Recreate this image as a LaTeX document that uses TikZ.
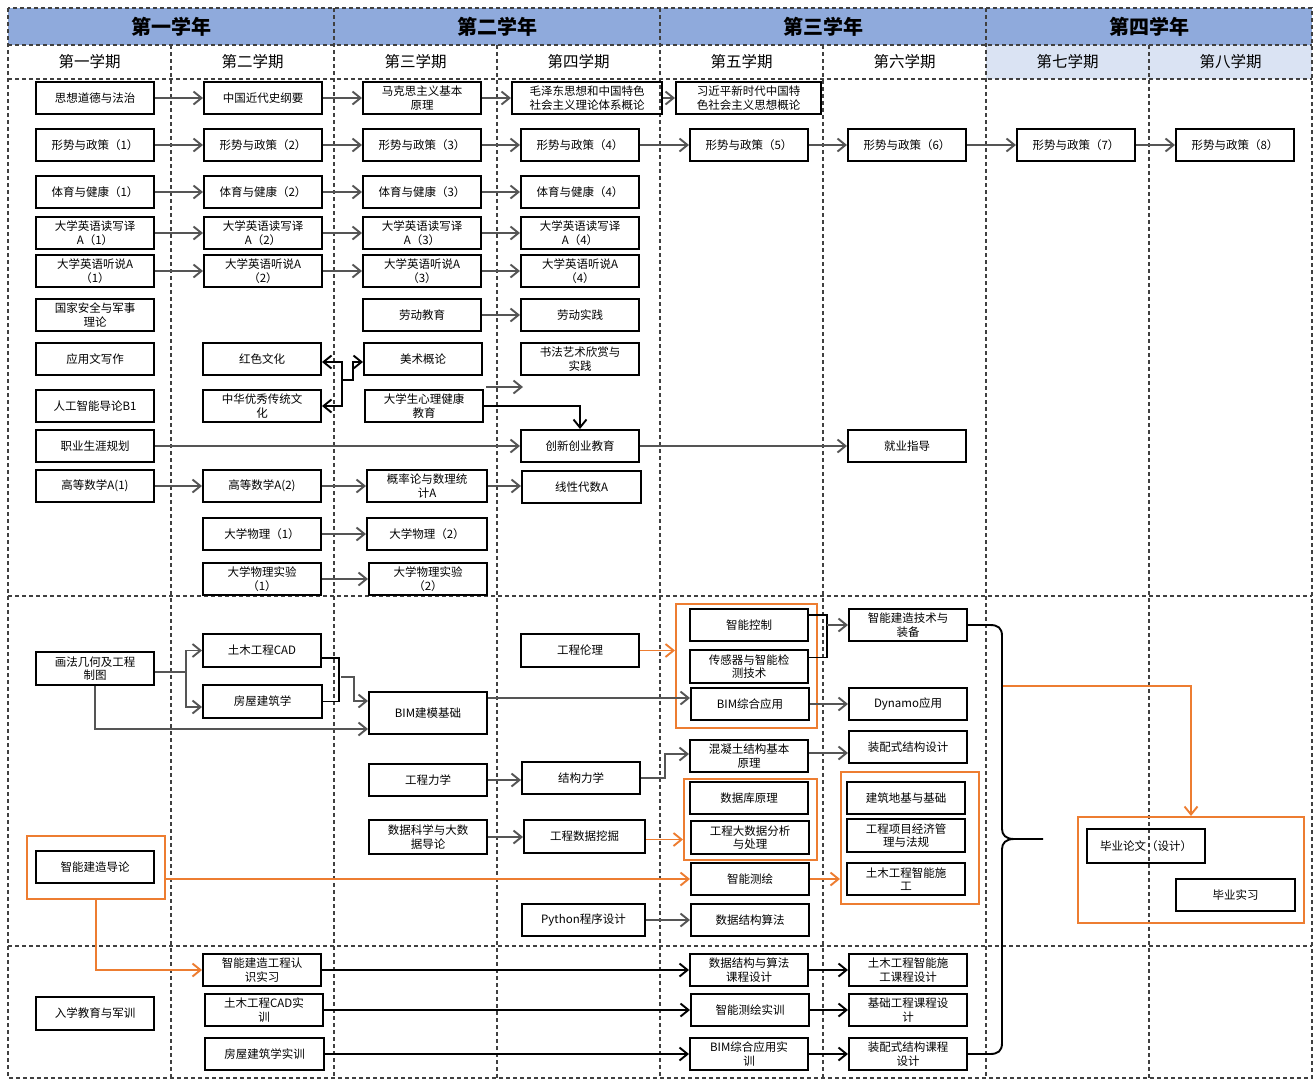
\documentclass[tikz,border=0pt]{standalone}
\usepackage{fontspec}
\setmainfont{Noto Sans CJK SC}
\usetikzlibrary{arrows.meta}
\definecolor{hdr}{HTML}{8FAADC}
\definecolor{hdrl}{HTML}{DAE3F3}
\definecolor{org}{HTML}{ED7D31}
\definecolor{arr}{HTML}{555555}
\definecolor{grd}{HTML}{404040}
\tikzset{
 box/.style={draw=black,line width=2pt,inner sep=0pt,align=center,font=\fontsize{11.5}{13.5}\selectfont},
 tip/.style={-{Straight Barb[length=8pt,width=13pt]}},
 ga/.style={draw=arr,line width=1.9pt,tip},
 ba/.style={draw=black,line width=1.9pt,tip},
 oa/.style={draw=org,line width=1.9pt,tip},
 bl/.style={draw=black,line width=1.9pt},
 oframe/.style={draw=org,line width=2pt,inner sep=0pt},
 gridline/.style={draw=grd,line width=1.5pt,dash pattern=on 4pt off 3pt},
 yeartxt/.style={font=\fontsize{20}{24}\selectfont\bfseries},
 semtxt/.style={font=\fontsize{15.5}{18}\selectfont},
}
\newcommand\mybox[7][]{\node[box,minimum width={#5-#3},minimum height={#6-#4},#1] (#2) at ({(#3+#5)/2},{(#4+#6)/2}) {#7};}
\newcommand\myframe[5]{\node[oframe,minimum width={#4-#2},minimum height={#5-#3}] (#1) at ({(#2+#4)/2},{(#3+#5)/2}) {};}
\newcommand\harr[3][ga]{\draw[#1] (#2.east) -- (#2.east -| #3.west);}
\begin{document}
\begin{tikzpicture}[x=1pt,y=-1pt]
\useasboundingbox (0,0) rectangle (1315,1080);
% header backgrounds
\fill[hdr] (8,8) rectangle (1312,45);
\fill[hdrl] (986,45) rectangle (1312,79);
% grid
\draw[gridline] (8,8) rectangle (1312,1078);
\foreach \y in {45,79,596,946} \draw[gridline] (8,\y) -- (1312,\y);
\foreach \x in {334,660,986} \draw[gridline] (\x,8) -- (\x,1078);
\foreach \x in {171,497,823,1149} \draw[gridline] (\x,45) -- (\x,1078);
% header texts
\node[yeartxt] (y1) at (171,26.5) {第一学年};
\node[yeartxt] (y2) at (497,26.5) {第二学年};
\node[yeartxt] (y3) at (823,26.5) {第三学年};
\node[yeartxt] (y4) at (1149,26.5) {第四学年};
\node[semtxt] (s1) at (89.5,62) {第一学期};
\node[semtxt] (s2) at (252.5,62) {第二学期};
\node[semtxt] (s3) at (415.5,62) {第三学期};
\node[semtxt] (s4) at (578.5,62) {第四学期};
\node[semtxt] (s5) at (741.5,62) {第五学期};
\node[semtxt] (s6) at (904.5,62) {第六学期};
\node[semtxt] (s7) at (1067.5,62) {第七学期};
\node[semtxt] (s8) at (1230.5,62) {第八学期};
% ---------- top section ----------
\mybox{a1}{36}{82}{154}{114}{思想道德与法治}
\mybox{a2}{204}{82}{322}{114}{中国近代史纲要}
\mybox{a3}{363}{82}{481}{114}{马克思主义基本\\原理}
\mybox{a4}{512}{82}{662}{114}{毛泽东思想和中国特色\\社会主义理论体系概论}
\mybox{a5}{676}{82}{821}{114}{习近平新时代中国特\\色社会主义思想概论}
\mybox{b1}{36}{129}{154}{161}{形势与政策（1）}
\mybox{b2}{204}{129}{322}{161}{形势与政策（2）}
\mybox{b3}{363}{129}{481}{161}{形势与政策（3）}
\mybox{b4}{521}{129}{639}{161}{形势与政策（4）}
\mybox{b5}{690}{129}{808}{161}{形势与政策（5）}
\mybox{b6}{848}{129}{966}{161}{形势与政策（6）}
\mybox{b7}{1017}{129}{1135}{161}{形势与政策（7）}
\mybox{b8}{1176}{129}{1294}{161}{形势与政策（8）}
\mybox{c1}{36}{176}{154}{208}{体育与健康（1）}
\mybox{c2}{204}{176}{322}{208}{体育与健康（2）}
\mybox{c3}{363}{176}{481}{208}{体育与健康（3）}
\mybox{c4}{521}{176}{639}{208}{体育与健康（4）}
\mybox{d1}{36}{217}{154}{249}{大学英语读写译\\A（1）}
\mybox{d2}{204}{217}{322}{249}{大学英语读写译\\A（2）}
\mybox{d3}{363}{217}{481}{249}{大学英语读写译\\A（3）}
\mybox{d4}{521}{217}{639}{249}{大学英语读写译\\A（4）}
\mybox{e1}{36}{255}{154}{287}{大学英语听说A\\（1）}
\mybox{e2}{204}{255}{322}{287}{大学英语听说A\\（2）}
\mybox{e3}{363}{255}{481}{287}{大学英语听说A\\（3）}
\mybox{e4}{521}{255}{639}{287}{大学英语听说A\\（4）}
\mybox{guofang}{36}{299}{154}{331}{国家安全与军事\\理论}
\mybox{laojy}{363}{299}{481}{331}{劳动教育}
\mybox{laosj}{521}{299}{639}{331}{劳动实践}
\mybox{yingyong}{36}{343}{154}{375}{应用文写作}
\mybox{hongse}{203}{343}{321}{375}{红色文化}
\mybox{meishu}{364}{343}{482}{375}{美术概论}
\mybox{shufa}{521}{343}{639}{375}{书法艺术欣赏与\\实践}
\mybox{rengong}{36}{390}{154}{422}{人工智能导论B1}
\mybox{zhonghua}{203}{390}{321}{422}{中华优秀传统文\\化}
\mybox{xinli}{365}{390}{483}{422}{大学生心理健康\\教育}
\mybox{zhiye}{36}{430}{154}{462}{职业生涯规划}
\mybox{chuangxin}{521}{430}{639}{462}{创新创业教育}
\mybox{jiuye}{848}{430}{966}{462}{就业指导}
\mybox{gs1}{36}{470}{154}{502}{高等数学A(1)}
\mybox{gs2}{203}{470}{321}{502}{高等数学A(2)}
\mybox{gailv}{367}{470}{487}{502}{概率论与数理统\\计A}
\mybox{xiandai}{522}{471}{641}{503}{线性代数A}
\mybox{wl1}{203}{518}{321}{550}{大学物理（1）}
\mybox{wl2}{367}{518}{487}{550}{大学物理（2）}
\mybox{sy1}{203}{563}{321}{595}{大学物理实验\\（1）}
\mybox{sy2}{369}{563}{487}{595}{大学物理实验\\（2）}
% ---------- middle section ----------
\mybox{huafa}{36}{652}{154}{685}{画法几何及工程\\制图}
\mybox{cad}{203}{634}{321}{667}{土木工程CAD}
\mybox{fangwu}{203}{685}{322}{718}{房屋建筑学}
\mybox{bimjm}{369}{692}{487}{734}{BIM建模基础}
\mybox{lunli}{521}{634}{639}{667}{工程伦理}
\mybox{gclx}{369}{764}{487}{796}{工程力学}
\mybox{jglx}{522}{762}{640}{794}{结构力学}
\mybox{sjkx}{369}{820}{487}{854}{数据科学与大数\\据导论}
\mybox{wajue}{524}{820}{645}{853}{工程数据挖掘}
\mybox{python}{522}{904}{645}{936}{Python程序设计}
\mybox{daolun}{36}{851}{154}{883}{智能建造导论}
\myframe{f0}{27}{836}{165}{899}
\mybox{kongzhi}{690}{609}{808}{641}{智能控制}
\mybox{chuangan}{690}{650}{808}{683}{传感器与智能检\\测技术}
\mybox{bimzh}{691}{688}{809}{720}{BIM综合应用}
\myframe{f1}{676}{604}{817}{728}
\mybox{hnt}{690}{740}{808}{772}{混凝土结构基本\\原理}
\mybox{sjk}{690}{782}{808}{814}{数据库原理}
\mybox{dsj}{691}{821}{809}{854}{工程大数据分析\\与处理}
\myframe{f2}{684}{779}{817}{860}
\mybox{cehui}{691}{863}{809}{895}{智能测绘}
\mybox{sjjg}{691}{904}{809}{936}{数据结构算法}
\mybox{zhuangbei}{849}{609}{967}{641}{智能建造技术与\\装备}
\mybox{dynamo}{849}{688}{967}{720}{Dynamo应用}
\mybox{zpsj}{849}{731}{967}{763}{装配式结构设计}
\mybox{diji}{847}{782}{965}{814}{建筑地基与基础}
\mybox{jingji}{847}{819}{965}{852}{工程项目经济管\\理与法规}
\mybox{zhsg}{847}{863}{965}{895}{土木工程智能施\\工}
\myframe{f3}{841}{772}{979}{904}
\mybox{lunwen}{1087}{829}{1205}{863}{毕业论文（设计）}
\mybox{shixi}{1176}{879}{1295}{911}{毕业实习}
\myframe{f4}{1078}{817}{1304}{923}
% ---------- bottom section ----------
\mybox{junxun}{36}{997}{154}{1030}{入学教育与军训}
\mybox{renshi}{203}{954}{321}{986}{智能建造工程认\\识实习}
\mybox{cadsx}{205}{994}{323}{1026}{土木工程CAD实\\训}
\mybox{fwsx}{205}{1038}{324}{1070}{房屋建筑学实训}
\mybox{kcsj}{690}{954}{808}{986}{数据结构与算法\\课程设计}
\mybox{chsx}{691}{994}{809}{1026}{智能测绘实训}
\mybox{bimsx}{690}{1038}{808}{1070}{BIM综合应用实\\训}
\mybox{sgkc}{849}{954}{967}{986}{土木工程智能施\\工课程设计}
\mybox{jckc}{849}{994}{967}{1026}{基础工程课程设\\计}
\mybox{zpkc}{849}{1038}{967}{1070}{装配式结构课程\\设计}
% ---------- arrows: top ----------
\harr{a1}{a2}\harr{a2}{a3}\harr{a3}{a4}\harr{a4}{a5}
\harr{b1}{b2}\harr{b2}{b3}\harr{b3}{b4}\harr{b4}{b5}\harr{b5}{b6}\harr{b6}{b7}\harr{b7}{b8}
\harr{c1}{c2}\harr{c2}{c3}\harr{c3}{c4}
\harr{d1}{d2}\harr{d2}{d3}\harr{d3}{d4}
\harr{e1}{e2}\harr{e2}{e3}\harr{e3}{e4}
\harr{laojy}{laosj}
\harr{zhiye}{chuangxin}\harr{chuangxin}{jiuye}
\harr{gs1}{gs2}\harr{gs2}{gailv}\harr{gailv}{xiandai}
\harr{wl1}{wl2}
\harr{sy1}{sy2}
\coordinate (jn) at (342,380);
\coordinate (jr) at (353,380);
\draw[ba] (jn) |- ([yshift=-3pt]hongse.east);
\draw[ba] (jn) |- (zhonghua.east);
\draw[ba] (jn) -- (jr) |- ([yshift=-3pt]meishu.west);
\coordinate (dg1) at (486,387);
\coordinate (dg2) at (523,387);
\draw[ga] (dg1) -- (dg2);
\draw[ba] (xinli.east) -| (chuangxin.north);
% ---------- arrows: middle ----------
\coordinate (hj) at (186,672);
\draw[ga] (huafa.east |- hj) -- (hj) |- (cad.west);
\draw[ga] (hj) |- ([yshift=-5.5pt]fangwu.west);
\draw[ga] (huafa.south) |- ([yshift=-16pt]bimjm.west);
\coordinate (br1) at (339,658);
\draw[bl] (cad.east |- br1) -- (br1) |- (fangwu.east);
\coordinate (bs) at (341,677);
\coordinate (bs2) at (354,677);
\draw[ga] (bs) -- (bs2) |- ([yshift=12pt]bimjm.west);
\draw[ga] ([yshift=15pt]bimjm.east) -- ([yshift=15pt]bimjm.east -| bimzh.west);
\draw[oa] (lunli.east) -- (lunli.east -| f1.west);
\coordinate (br2) at (827,615);
\coordinate (br2m) at (827,625);
\draw[bl] (kongzhi.east |- br2) -- (br2) |- ([yshift=9pt]chuangan.east);
\draw[ga] (br2m) -- (br2m -| zhuangbei.west);
\harr{bimzh}{dynamo}
\harr{gclx}{jglx}
\coordinate (jk) at (665,778);
\draw[ga] (jglx.east) -- (jk) |- ([yshift=2pt]hnt.west);
\draw[ga] ([yshift=3pt]hnt.east) -- ([yshift=3pt]hnt.east -| zpsj.west);
\harr{sjkx}{wajue}
\draw[oa] ([yshift=-3pt]wajue.east) -- ([yshift=-3pt]wajue.east -| f2.west);
\harr{python}{sjjg}
\draw[oa] (f0.east |- cehui.west) -- (cehui.west);
\draw[oa] (cehui.east) -- (cehui.east -| f3.west);
\draw[oa] (f0.south) |- (renshi.west);
% ---------- arrows: bottom ----------
\harr[ba]{renshi}{kcsj}\harr[ba]{cadsx}{chsx}\harr[ba]{fwsx}{bimsx}
\harr[ba]{kcsj}{sgkc}\harr[ba]{chsx}{jckc}\harr[ba]{bimsx}{zpkc}
% ---------- brace ----------
\coordinate (btip) at (1043,839);
\draw[bl] (zhuangbei.east) -- (990,625) .. controls (998,625) and (1002,628) .. (1002,636) -- (1002,829) .. controls (1002,835) and (1006,839) .. (1014,839) -- (btip);
\draw[bl] (zpkc.east) -- (990,1054) .. controls (998,1054) and (1002,1051) .. (1002,1043) -- (1002,849) .. controls (1002,843) and (1006,839) .. (1014,839);
\coordinate (bo) at (1003,686);
\draw[oa] (bo) -| (f4.north);
\end{tikzpicture}
\end{document}
